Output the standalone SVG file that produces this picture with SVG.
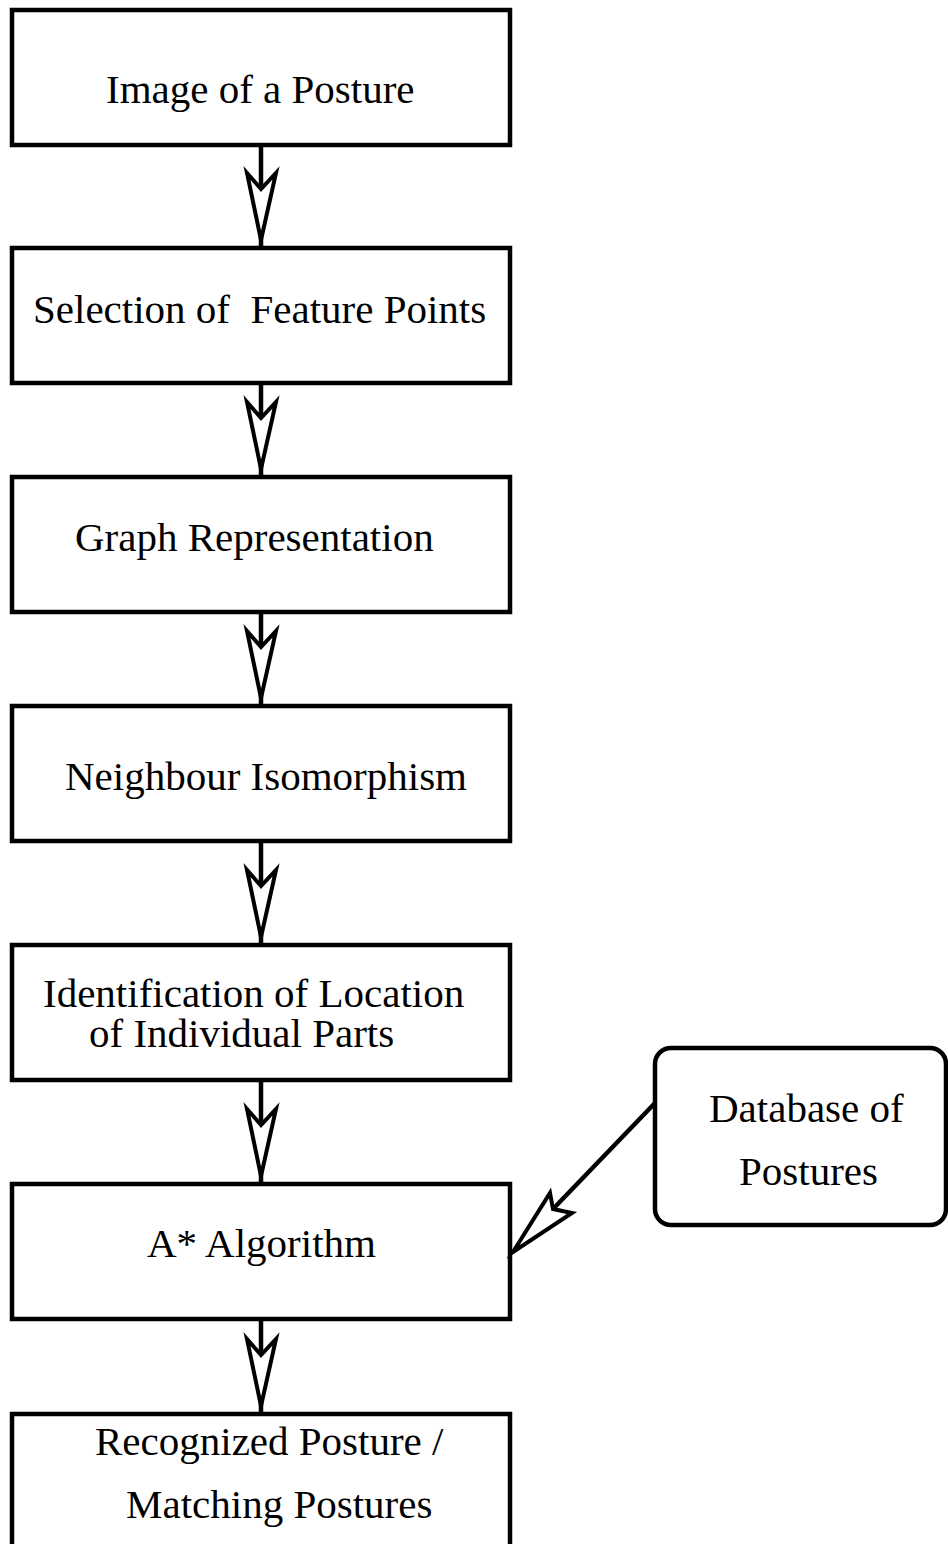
<svg xmlns="http://www.w3.org/2000/svg" width="948" height="1544" viewBox="0 0 948 1544">
<style>
.box{fill:#fff;stroke:#000;stroke-width:4.5}
.t{font-family:"Liberation Serif","Times New Roman",serif;font-size:41px;fill:#000}
.ln{stroke:#000;stroke-width:4.5;fill:none}
.ah{fill:#fff;stroke:#000;stroke-width:4;stroke-linejoin:miter;stroke-miterlimit:20}
</style>
<rect width="948" height="1544" fill="#fff"/>
<g id="n1"><rect class="box" x="12" y="10" width="498" height="135"/><text class="t" x="106" y="103">Image of a Posture</text></g>
<g id="n2"><rect class="box" x="12" y="248" width="498" height="135"/><text class="t" x="33" y="323" xml:space="preserve">Selection of  Feature Points</text></g>
<g id="n3"><rect class="box" x="12" y="477" width="498" height="135"/><text class="t" x="75" y="551">Graph Representation</text></g>
<g id="n4"><rect class="box" x="12" y="706" width="498" height="135"/><text class="t" x="65" y="790">Neighbour Isomorphism</text></g>
<g id="n5"><rect class="box" x="12" y="945" width="498" height="135"/><text class="t" x="43" y="1007">Identification of Location</text><text class="t" x="89" y="1047">of Individual Parts</text></g>
<g id="n6"><rect class="box" x="12" y="1184" width="498" height="135"/><text class="t" x="147" y="1257">A* Algorithm</text></g>
<g id="n7"><rect class="box" x="12" y="1414" width="498" height="150"/><text class="t" x="95" y="1455">Recognized Posture /</text><text class="t" x="126" y="1518">Matching Postures</text></g>
<g id="db"><rect class="box" x="655" y="1048" width="291" height="177" rx="16"/><text class="t" x="709" y="1122">Database of</text><text class="t" x="739" y="1185">Postures</text></g>
<g id="connectors">
<line class="ln" x1="261" y1="145" x2="261" y2="248"/>
<polygon class="ah" points="261,189 247,173 261,240 276,173"/>
<line class="ln" x1="261" y1="383" x2="261" y2="477"/>
<polygon class="ah" points="261,418 247,402 261,469 276,402"/>
<line class="ln" x1="261" y1="612" x2="261" y2="706"/>
<polygon class="ah" points="261,647 247,631 261,698 276,631"/>
<line class="ln" x1="261" y1="841" x2="261" y2="945"/>
<polygon class="ah" points="261,886 247,870 261,937 276,870"/>
<line class="ln" x1="261" y1="1080" x2="261" y2="1184"/>
<polygon class="ah" points="261,1125 247,1109 261,1176 276,1109"/>
<line class="ln" x1="261" y1="1319" x2="261" y2="1414"/>
<polygon class="ah" points="261,1355 247,1339 261,1406 276,1339"/>
<line class="ln" x1="655" y1="1103" x2="553" y2="1209"/>
<polygon class="ah" points="553,1209 550,1193 513,1252 572,1213"/>
</g>
</svg>
